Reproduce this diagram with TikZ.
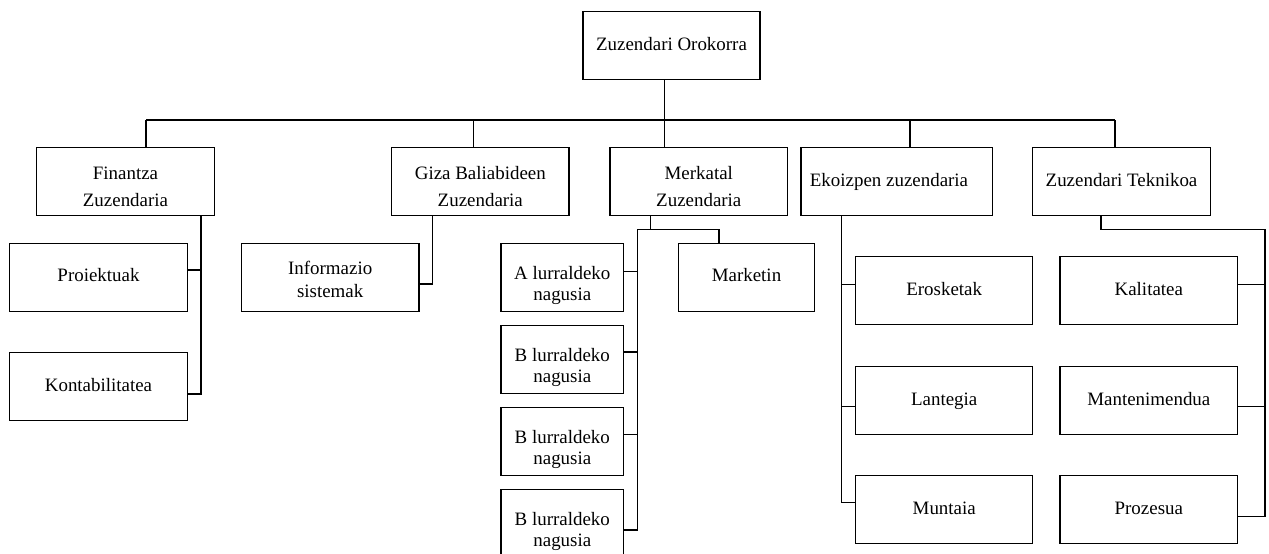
\documentclass[tikz,border=0pt]{standalone}
\usepackage{fontspec}
\setmainfont{Liberation Serif}

% one drawing unit = one pixel of the 1269 x 553 canvas
\newlength{\px}
\setlength{\px}{0.75pt}

% box contents: #1 width, #2 height, #3 first baseline below the top,
% #4 line spacing, #5 text (all sizes in px)
\newcommand{\bx}[5]{%
  \parbox[c][#2\px][t]{#1\px}{\centering
    \fontsize{14.2pt}{#4\px}\selectfont
    \vspace*{\dimexpr#3\px-14\px\relax}%
    \rule{0pt}{14\px}#5}}

\tikzset{
  box/.style={draw, inner sep=0pt, outer sep=0pt, line width=1pt},
  link/.style={draw, line width=1pt}
}

\begin{document}
\begin{tikzpicture}[x=0.75pt, y=-0.75pt]
\useasboundingbox (0,0) rectangle (1269,553);

% general manager
\node[box] (top) at (671.5,45.3) {\bx{177}{68}{39}{26}{Zuzendari Orokorra}};

% directors
\node[box] (fin)  at (125.5,181.7) {\bx{177.6}{68}{32}{26.4}{Finantza\\Zuzendaria}};
\node[box] (giza) at (480.3,181.7) {\bx{177.3}{68}{32}{26.4}{Giza Baliabideen\\Zuzendaria}};
\node[box] (merk) at (698.8,181.7) {\bx{177.6}{68}{32}{26.4}{Merkatal\\Zuzendaria}};
\node[box] (ekoi) at (896.7,181.7) {\bx{191.3}{68}{38.4}{26}{\hspace*{-15.4\px}Ekoizpen zuzendaria}};
\node[box] (tekn) at (1121.5,181.7) {\bx{177.6}{68}{38.4}{26}{Zuzendari Teknikoa}};

% finance
\node[box] (proi) at (98.5,277.3) {\bx{177.6}{68}{38.4}{26}{Proiektuak}};
\node[box] (kont) at (98.5,386.7) {\bx{177.6}{68}{38.4}{26}{Kontabilitatea}};

% human resources
\node[box] (info) at (330.2,277.3) {\bx{177.7}{68}{30.7}{23.3}{Informazio\\sistemak}};

% commercial
\node[box] (alur)  at (562.3,277.5) {\bx{122.7}{68}{36}{21}{A lurraldeko\\nagusia}};
\node[box] (blur1) at (562.3,359.5) {\bx{122.7}{68}{36}{21}{B lurraldeko\\nagusia}};
\node[box] (blur2) at (562.3,441.5) {\bx{122.7}{68}{36}{21}{B lurraldeko\\nagusia}};
\node[box] (blur3) at (562.3,523.5) {\bx{122.7}{68}{36}{21}{B lurraldeko\\nagusia}};
\node[box] (mark)  at (746.5,277.3) {\bx{136.3}{68}{38.4}{26}{Marketin}};

% production
\node[box] (eros) at (944.2,290.7) {\bx{177}{68}{38.4}{26}{Erosketak}};
\node[box] (lant) at (944.2,400.7) {\bx{177}{68}{38.4}{26}{Lantegia}};
\node[box] (munt) at (944.2,509.7) {\bx{177}{68}{38.4}{26}{Muntaia}};

% technical
\node[box] (kali) at (1148.8,290.7) {\bx{177.7}{68}{38.4}{26}{Kalitatea}};
\node[box] (mant) at (1148.8,400.7) {\bx{177.7}{68}{38.4}{26}{Mantenimendua}};
\node[box] (proz) at (1148.8,509.7) {\bx{177.7}{68}{38.4}{26}{Prozesua}};

% junction points
\coordinate (jF) at (146,120);
\coordinate (jG) at (473.3,120);
\coordinate (jM) at (664.7,120);
\coordinate (jE) at (910,120);
\coordinate (jT) at (1115,120);

\coordinate (fa) at (201,270);
\coordinate (fb) at (201,394);
\coordinate (gb) at (432.7,284);

\coordinate (mt) at (650.7,229.3);
\coordinate (ml) at (637.3,229.3);
\coordinate (mr) at (719,229.3);
\coordinate (m1) at (637.3,271.5);
\coordinate (m2) at (637.3,352);
\coordinate (m3) at (637.3,434.3);
\coordinate (m4) at (637.3,530);

\coordinate (e1) at (841.7,284.7);
\coordinate (e2) at (841.7,406.7);
\coordinate (e3) at (841.7,502.3);

\coordinate (tt) at (1101,229.3);
\coordinate (tr) at (1265,229.3);
\coordinate (t1) at (1265,284.7);
\coordinate (t2) at (1265,406.7);
\coordinate (t3) at (1265,516.7);

% top level bus
\path[link] (top.south -| jM) -- (jM);
\path[link] (jF) -- (jT);
\path[link] (jF) -- (fin.north -| jF);
\path[link] (jG) -- (giza.north -| jG);
\path[link] (jM) -- (merk.north -| jM);
\path[link] (jE) -- (ekoi.north -| jE);
\path[link] (jT) -- (tekn.north -| jT);

% finance branch
\path[link] (fin.south -| fb) -- (fb) -- (kont.east |- fb);
\path[link] (proi.east |- fa) -- (fa);

% human resources branch
\path[link] (giza.south -| gb) -- (gb) -- (info.east |- gb);

% commercial branch
\path[link] (merk.south -| mt) -- (mt);
\path[link] (mark.north -| mr) -- (mr) -- (ml) -- (m4) -- (blur3.east |- m4);
\path[link] (alur.east |- m1) -- (m1);
\path[link] (blur1.east |- m2) -- (m2);
\path[link] (blur2.east |- m3) -- (m3);

% production branch
\path[link] (ekoi.south -| e3) -- (e3) -- (munt.west |- e3);
\path[link] (e1) -- (eros.west |- e1);
\path[link] (e2) -- (lant.west |- e2);

% technical branch
\path[link] (tekn.south -| tt) -- (tt) -- (tr) -- (t3) -- (proz.east |- t3);
\path[link] (kali.east |- t1) -- (t1);
\path[link] (mant.east |- t2) -- (t2);
\end{tikzpicture}
\end{document}
